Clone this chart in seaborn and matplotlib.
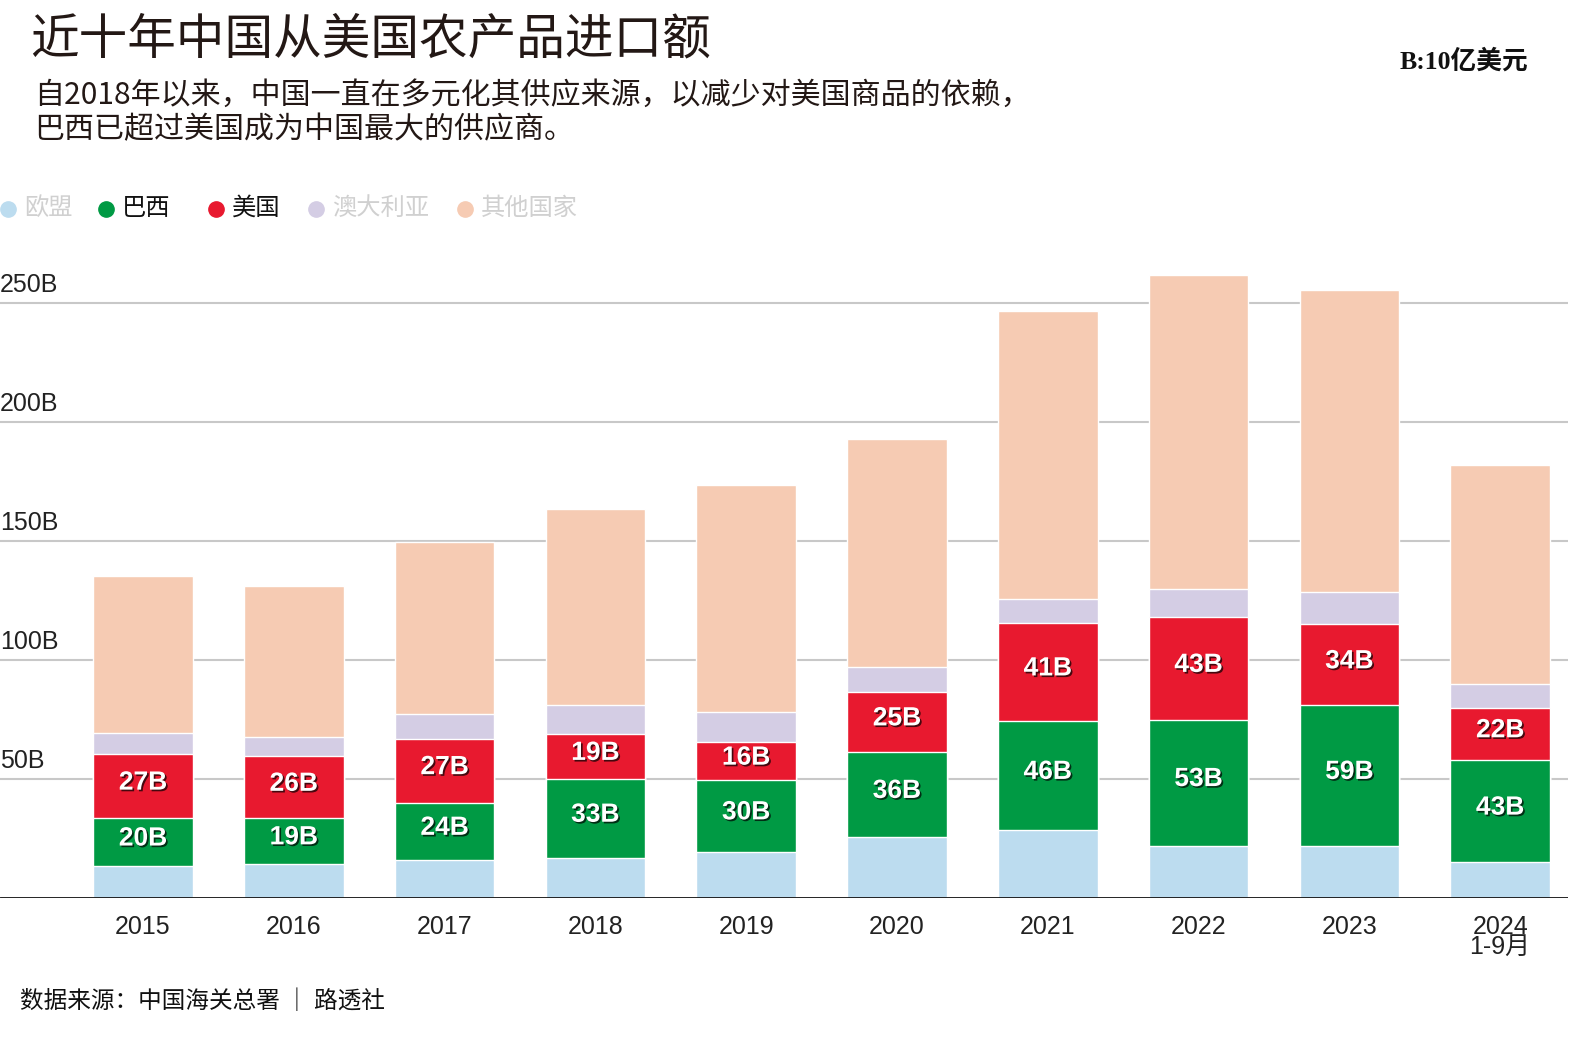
import pandas as pd
import seaborn as sns
import matplotlib.pyplot as plt
import matplotlib.transforms as mtransforms
import matplotlib.patheffects as pe
from matplotlib.lines import Line2D

years = ["2015", "2016", "2017", "2018", "2019", "2020", "2021", "2022", "2023", "2024"]
year_labels = years[:-1] + ["2024\n1-9月"]
eu = [13.5, 14.5, 16, 17, 19.5, 25.5, 28.5, 22, 22, 15]
brazil = [20, 19, 24, 33, 30, 36, 46, 53, 59, 43]
usa = [27, 26, 27, 19, 16, 25, 41, 43, 34, 22]
australia = [9, 8, 10.5, 12, 12.5, 10.5, 10, 12, 13.5, 10]
others = [65.8, 63.5, 72.1, 82.4, 95.5, 95.9, 121.1, 132, 127, 92]
y_ticks = [50, 100, 150, 200, 250]

series_names = ["欧盟", "巴西", "美国", "澳大利亚", "其他国家"]
colors = ["#bcdcef", "#009a44", "#e8192f", "#d4cde4", "#f6cbb3"]
legend_text_colors = ["#d0d0d0", "#111111", "#111111", "#d0d0d0", "#d0d0d0"]

sns.set_style("white")
plt.rcParams["font.family"] = ["Liberation Sans", "Noto Sans CJK SC", "DejaVu Sans"]
cjk = ["Noto Sans CJK SC", "DejaVu Sans"]

df = pd.DataFrame({"year": years, "eu": eu, "brazil": brazil, "usa": usa,
                   "australia": australia, "others": others})
cols = ["eu", "brazil", "usa", "australia", "others"]
cum = df[cols].cumsum(axis=1)

fig = plt.figure(figsize=(15.8, 10.52), dpi=100)
ax = fig.add_axes([0, 1 - 898 / 1052, 1568 / 1580, (898 - 270) / 1052])

for v in y_ticks:
    ax.axhline(v, color="#c8c8c8", lw=1.5, zorder=0)

# stacked bars: draw cumulative totals from the top layer down
for col, color in reversed(list(zip(cols, colors))):
    sns.barplot(x=df["year"], y=cum[col], color=color, saturation=1,
                width=0.66, errorbar=None, ax=ax, zorder=2)

ax.axhline(0, color="#111111", lw=2, zorder=3)

shadow = [pe.SimplePatchShadow(offset=(1.2, -1.2), shadow_rgbFace="black", alpha=0.7),
          pe.Normal()]
for i in range(len(years)):
    for col in ["brazil", "usa"]:
        top = cum[col].iloc[i]
        val = df[col].iloc[i]
        ax.text(i, top - val / 2 + 1.5, f"{val}B", ha="center", va="center",
                color="white", fontsize=19, fontweight="bold", zorder=4,
                path_effects=shadow)

trans = mtransforms.blended_transform_factory(ax.transAxes, ax.transData)
for v in y_ticks:
    ax.text(0.0, v + 2.5, f"{v}B", transform=trans, ha="left", va="bottom",
            fontsize=18, color="#222222")

ax.set_xlim(-0.948, 9.45)
ax.set_ylim(0, 264)
ax.set_xticks(range(len(years)))
ax.set_xticklabels(year_labels, fontsize=18, color="#222222", linespacing=0.8)
ax.tick_params(axis="x", length=0, pad=12)
ax.set_yticks([])
ax.set_xlabel("")
ax.set_ylabel("")
sns.despine(ax=ax, left=True, bottom=True)

# titles
fig.text(30 / 1580, 1 - 40 / 1052, "近十年中国从美国农产品进口额", fontsize=35,
         color="#231815", va="center", ha="left", family=cjk)
fig.text(34 / 1580, 1 - 95 / 1052,
         "自2018年以来，中国一直在多元化其供应来源，以减少对美国商品的依赖，",
         fontsize=21.6, color="#231815", va="center", ha="left", family=cjk)
fig.text(34 / 1580, 1 - 130 / 1052, "巴西已超过美国成为中国最大的供应商。",
         fontsize=21.6, color="#231815", va="center", ha="left", family=cjk)
fig.text(1528 / 1580, 1 - 61 / 1052, "B:10亿美元", fontsize=18.5, color="#111111",
         va="center", ha="right", fontweight="bold",
         family=["Liberation Serif", "Noto Sans CJK SC"])

# legend
marker_x = [8, 106, 216, 316, 465]
for mx, name, c, tc in zip(marker_x, series_names, colors, legend_text_colors):
    fig.add_artist(Line2D([mx / 1580], [1 - 209 / 1052], marker="o", markersize=11,
                          color=c, linestyle="none", transform=fig.transFigure))
    fig.text((mx + 16) / 1580, 1 - 208 / 1052, name, fontsize=17.5, color=tc,
             va="center", ha="left", family=cjk)

fig.text(20 / 1580, 1 - 1001 / 1052, "数据来源：中国海关总署 ｜ 路透社", fontsize=17,
         color="#111111", va="center", ha="left", family=cjk, fontweight="medium")

fig.savefig("out.png", dpi=100)
